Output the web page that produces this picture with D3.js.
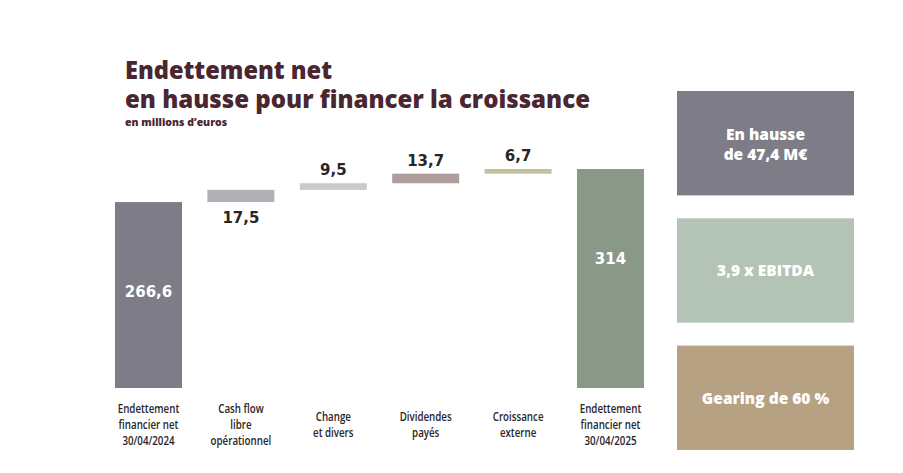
<script src="https://d3js.org/d3.v7.min.js"></script>
<style>
  body { margin: 0; background: #fff; }
</style>
<div class="vis"></div>
<script>
// data
var categories = [
    ["Endettement", "financier net", "30/04/2024"],
    ["Cash flow", "libre", "opérationnel"],
    ["Change", "et divers"],
    ["Dividendes", "payés"],
    ["Croissance", "externe"],
    ["Endettement", "financier net", "30/04/2025"]
];
var values = [266.6, 17.5, 9.5, 13.7, 6.7, 314];
var valueLabels = ["266,6", "17,5", "9,5", "13,7", "6,7", "314"];
var isTotal = [true, false, false, false, false, true];
var barColors = ["#7e7c86", "#b0b0b5", "#c9c8cc", "#b09e9e", "#c3c09c", "#8a9888"];

var boxLines = [["En hausse", "de 47,4 M€"], ["3,9 x EBITDA"], ["Gearing de 60 %"]];
var boxColors = ["#7e7c86", "#b3c3b5", "#b6a282"];

var width = 903, height = 473;

var svg = d3.select('.vis')
    .append("svg")
    .attr("width", width)
    .attr("height", height)
    .attr("viewBox", [0, 0, width, height]);

// title
var titleColor = "#4a2631";
var titleFont = "'Open Sans', sans-serif";
svg.append("text")
    .attr("x", 125).attr("y", 79)
    .attr("font-family", titleFont)
    .attr("font-weight", 800)
    .attr("font-size", 24)
    .attr("fill", titleColor)
    .attr("textLength", 207)
    .attr("lengthAdjust", "spacingAndGlyphs")
    .text("Endettement net");
svg.append("text")
    .attr("x", 125).attr("y", 108)
    .attr("font-family", titleFont)
    .attr("font-weight", 800)
    .attr("font-size", 24)
    .attr("fill", titleColor)
    .attr("textLength", 465)
    .attr("lengthAdjust", "spacingAndGlyphs")
    .text("en hausse pour financer la croissance");
svg.append("text")
    .attr("x", 125).attr("y", 126)
    .attr("font-family", titleFont)
    .attr("font-weight", 800)
    .attr("font-size", 10.5)
    .attr("fill", titleColor)
    .text("en millions d’euros");

// waterfall: compute start / end of every bar
var bars = [];
var running = 0;
values.forEach(function (v, i) {
    if (isTotal[i]) {
        bars.push({ i: i, y0: 0, y1: v });
        running = v;
    } else {
        bars.push({ i: i, y0: running, y1: running + v });
        running += v;
    }
});

var x = d3.scaleBand()
    .domain(d3.range(categories.length))
    .range([115, 644])
    .paddingInner(0.275)
    .paddingOuter(0);

var y = d3.scaleLinear()
    .domain([0, 314])
    .range([388, 169]);

svg.append("g")
    .selectAll("rect")
    .data(bars)
    .join("rect")
    .attr("x", d => x(d.i))
    .attr("y", d => y(d.y1))
    .attr("width", x.bandwidth())
    .attr("height", d => y(d.y0) - y(d.y1))
    .attr("fill", d => barColors[d.i]);

// value labels
svg.append("g")
    .attr("font-family", "'DejaVu Sans', sans-serif")
    .attr("font-weight", "bold")
    .attr("font-size", 15)
    .attr("text-anchor", "middle")
    .selectAll("text")
    .data(bars)
    .join("text")
    .attr("x", d => x(d.i) + x.bandwidth() / 2)
    .attr("y", function (d) {
        if (isTotal[d.i]) return y(d.y1) + 95;
        if (d.i === 1) return y(d.y0) + 21;
        return y(d.y1) - 8;
    })
    .attr("fill", d => isTotal[d.i] ? "#fff" : "#2a2426")
    .text(d => valueLabels[d.i]);

// category labels (condensed look via horizontal squeeze)
var cat = svg.append("g")
    .attr("font-family", "'Open Sans', sans-serif")
    .attr("font-weight", 600)
    .attr("font-size", 12.5)
    .attr("fill", "#2a2426")
    .attr("text-anchor", "middle")
    .selectAll("g")
    .data(categories)
    .join("g")
    .attr("transform", (d, i) => `translate(${x(i) + x.bandwidth() / 2},${d.length === 3 ? 413 : 421}) scale(0.78,1)`)
    .append("text");
cat.selectAll("tspan")
    .data(d => d)
    .join("tspan")
    .attr("x", 0)
    .attr("dy", (d, j) => j === 0 ? 0 : 16)
    .text(d => d);

// side boxes
var boxY = d3.scaleBand()
    .domain(d3.range(boxLines.length))
    .range([91, 450])
    .paddingInner(0.18);

var box = svg.append("g")
    .selectAll("g")
    .data(boxLines)
    .join("g")
    .attr("transform", (d, i) => `translate(677,${boxY(i)})`);
box.append("rect")
    .attr("width", 177)
    .attr("height", boxY.bandwidth())
    .attr("fill", (d, i) => boxColors[i]);
box.append("text")
    .attr("text-anchor", "middle")
    .attr("font-family", titleFont)
    .attr("font-weight", 800)
    .attr("font-size", 15.5)
    .attr("fill", "#fff")
    .attr("y", d => boxY.bandwidth() / 2 + 6 - (d.length - 1) * 9)
    .selectAll("tspan")
    .data(d => d)
    .join("tspan")
    .attr("x", 88.5)
    .attr("dy", (d, j) => j === 0 ? 0 : 20)
    .text(d => d);
</script>
